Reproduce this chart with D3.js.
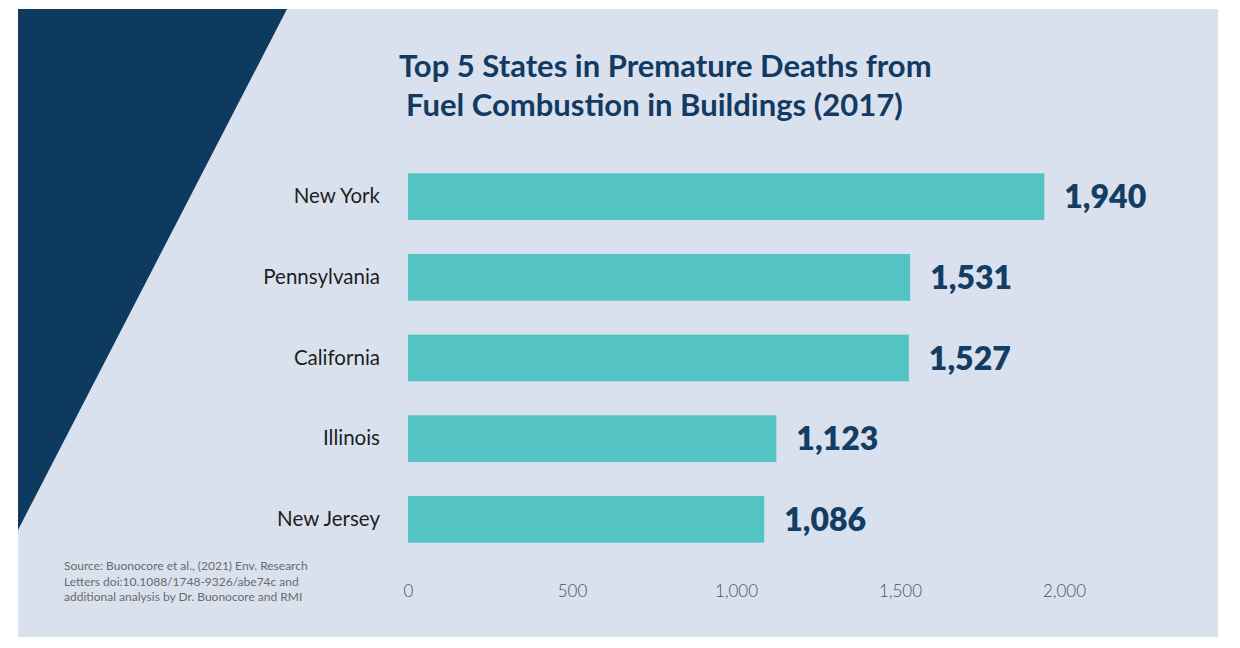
<!DOCTYPE html>
<html>
<head>
<meta charset="utf-8">
<script src="https://cdn.jsdelivr.net/npm/d3@7"></script>
<style>
  html, body { margin: 0; padding: 0; background: #ffffff; }
  svg { display: block; }
</style>
</head>
<body>
<svg id="chart" width="1240" height="648"></svg>
<script>
const states = ["New York", "Pennsylvania", "California", "Illinois", "New Jersey"];
const deaths = [1940, 1531, 1527, 1123, 1086];
const tickValues = [0, 500, 1000, 1500, 2000];
const titleLines = ["Top 5 States in Premature Deaths from", "Fuel Combustion in Buildings (2017)"];
const sourceLines = [
  "Source: Buonocore et al., (2021) Env. Research",
  "Letters doi:10.1088/1748-9326/abe74c and",
  "additional analysis by Dr. Buonocore and RMI"
];

const svg = d3.select("#chart");
const navy = "#0f3a60";
const panelColor = "#dae1ee";
const barColor = "#54c3c4";

// panel
svg.append("rect").attr("x", 18).attr("y", 9).attr("width", 1200).attr("height", 628).attr("fill", panelColor);
// navy triangle
svg.append("path").attr("d", "M18,9 L287,9 L18,530 Z").attr("fill", navy);

const x = d3.scaleLinear().domain([0, 2000]).range([408, 1064]);
const y = d3.scaleBand().domain(states).range([173.3, 542.7]).paddingInner(0.42).paddingOuter(0);

const data = states.map((s, i) => ({ state: s, value: deaths[i] }));

// bars
svg.append("g").selectAll("rect").data(data).join("rect")
  .attr("x", x(0))
  .attr("y", d => y(d.state))
  .attr("width", d => x(d.value) - x(0))
  .attr("height", y.bandwidth())
  .attr("fill", barColor);

// value labels
svg.append("g").selectAll("text").data(data).join("text")
  .attr("x", d => x(d.value) + 20)
  .attr("y", d => y(d.state) + y.bandwidth() / 2)
  .attr("dy", "0.36em")
  .attr("font-family", "Lato, 'Open Sans', sans-serif")
  .attr("font-weight", 800)
  .attr("font-size", 32)
  .attr("fill", "#143d63")
  .text(d => d3.format(",")(d.value));

// category labels
const yAxis = d3.axisLeft(y).tickSize(0).tickPadding(28);
const gy = svg.append("g").attr("transform", `translate(${x(0)},0)`).call(yAxis);
gy.select(".domain").remove();
gy.selectAll("text")
  .attr("font-family", "Lato, 'Open Sans', sans-serif")
  .attr("font-size", 20.5)
  .attr("fill", "#1e1e1e");

// x axis labels
const xAxis = d3.axisBottom(x).tickValues(tickValues).tickSize(0).tickPadding(0).tickFormat(d3.format(","));
const gx = svg.append("g").attr("transform", "translate(0,585)").call(xAxis);
gx.select(".domain").remove();
gx.selectAll("text")
  .attr("font-family", "Lato, 'Open Sans', sans-serif")
  .attr("font-weight", 300)
  .attr("font-size", 17)
  .attr("fill", "#505050");

// title
svg.append("g").selectAll("text").data(titleLines).join("text")
  .attr("x", (d, i) => i === 0 ? 399 : 406)
  .attr("y", (d, i) => 77 + i * 39)
  .attr("font-family", "Lato, 'Open Sans', sans-serif")
  .attr("font-weight", 700)
  .attr("font-size", 31)
  .attr("fill", "#123a62")
  .text(d => d);

// source
svg.append("g").selectAll("text").data(sourceLines).join("text")
  .attr("x", 64)
  .attr("y", (d, i) => 570 + i * 15.5)
  .attr("font-family", "Lato, 'Open Sans', sans-serif")
  .attr("font-weight", 400)
  .attr("font-size", 12)
  .attr("fill", "#6a6a6a")
  .text(d => d);
</script>
</body>
</html>
